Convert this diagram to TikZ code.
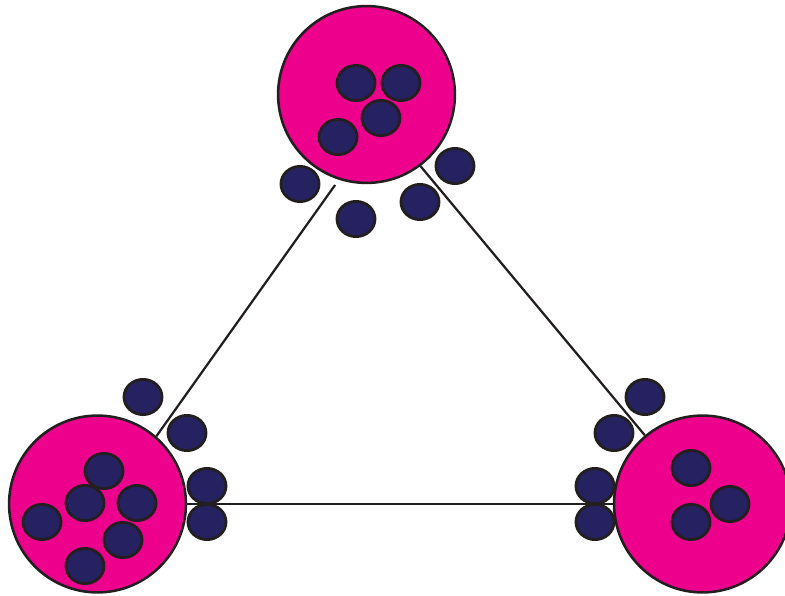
\documentclass[tikz,border=0pt]{standalone}
\usepackage{xcolor}
\usepackage{tikz}
\usetikzlibrary{shapes.geometric}
\definecolor{cellpink}{RGB}{236,0,140}
\definecolor{dotblue}{RGB}{38,34,98}
\definecolor{inkline}{RGB}{35,31,32}

\begin{document}
\begin{tikzpicture}[x=0.025cm,y=-0.025cm,
  cell/.style={circle,draw=inkline,fill=cellpink,line width=1.8pt,minimum size=4.42cm,inner sep=0pt},
  dot/.style={ellipse,draw=inkline,fill=dotblue,line width=2pt,minimum width=0.95cm,minimum height=0.88cm,inner sep=0pt},
  link/.style={draw=inkline,line width=1.6pt}]
  \useasboundingbox (0,0) rectangle (785,596);
  % the three cells
  \node[cell] (top) at (366.5,94.5){};
  \node[cell] (lft) at (97.5,504){};
  \node[cell] (rgt) at (702.5,504){};
  \draw[link,shorten <=4.5pt] (top.252) -- (lft.49);
  \draw[link] (top.307) -- (rgt.130);
  \draw[link] (lft) -- (rgt);
  % particles inside and around each cell
  \foreach \x/\y [count=\i] in {356/83,401/83,381/118,338/137,
                                300/184,455/166,420/202,356/219,
                                104/471,85/503,137/503,42/522,123/540,85/566,
                                143/397,187/433,207/486,207/522,
                                691/468,730/504,691/522,
                                645/397,614/433,595/486,595/522}
    {\node[dot] (d\i) at (\x,\y){};}
\end{tikzpicture}
\end{document}
